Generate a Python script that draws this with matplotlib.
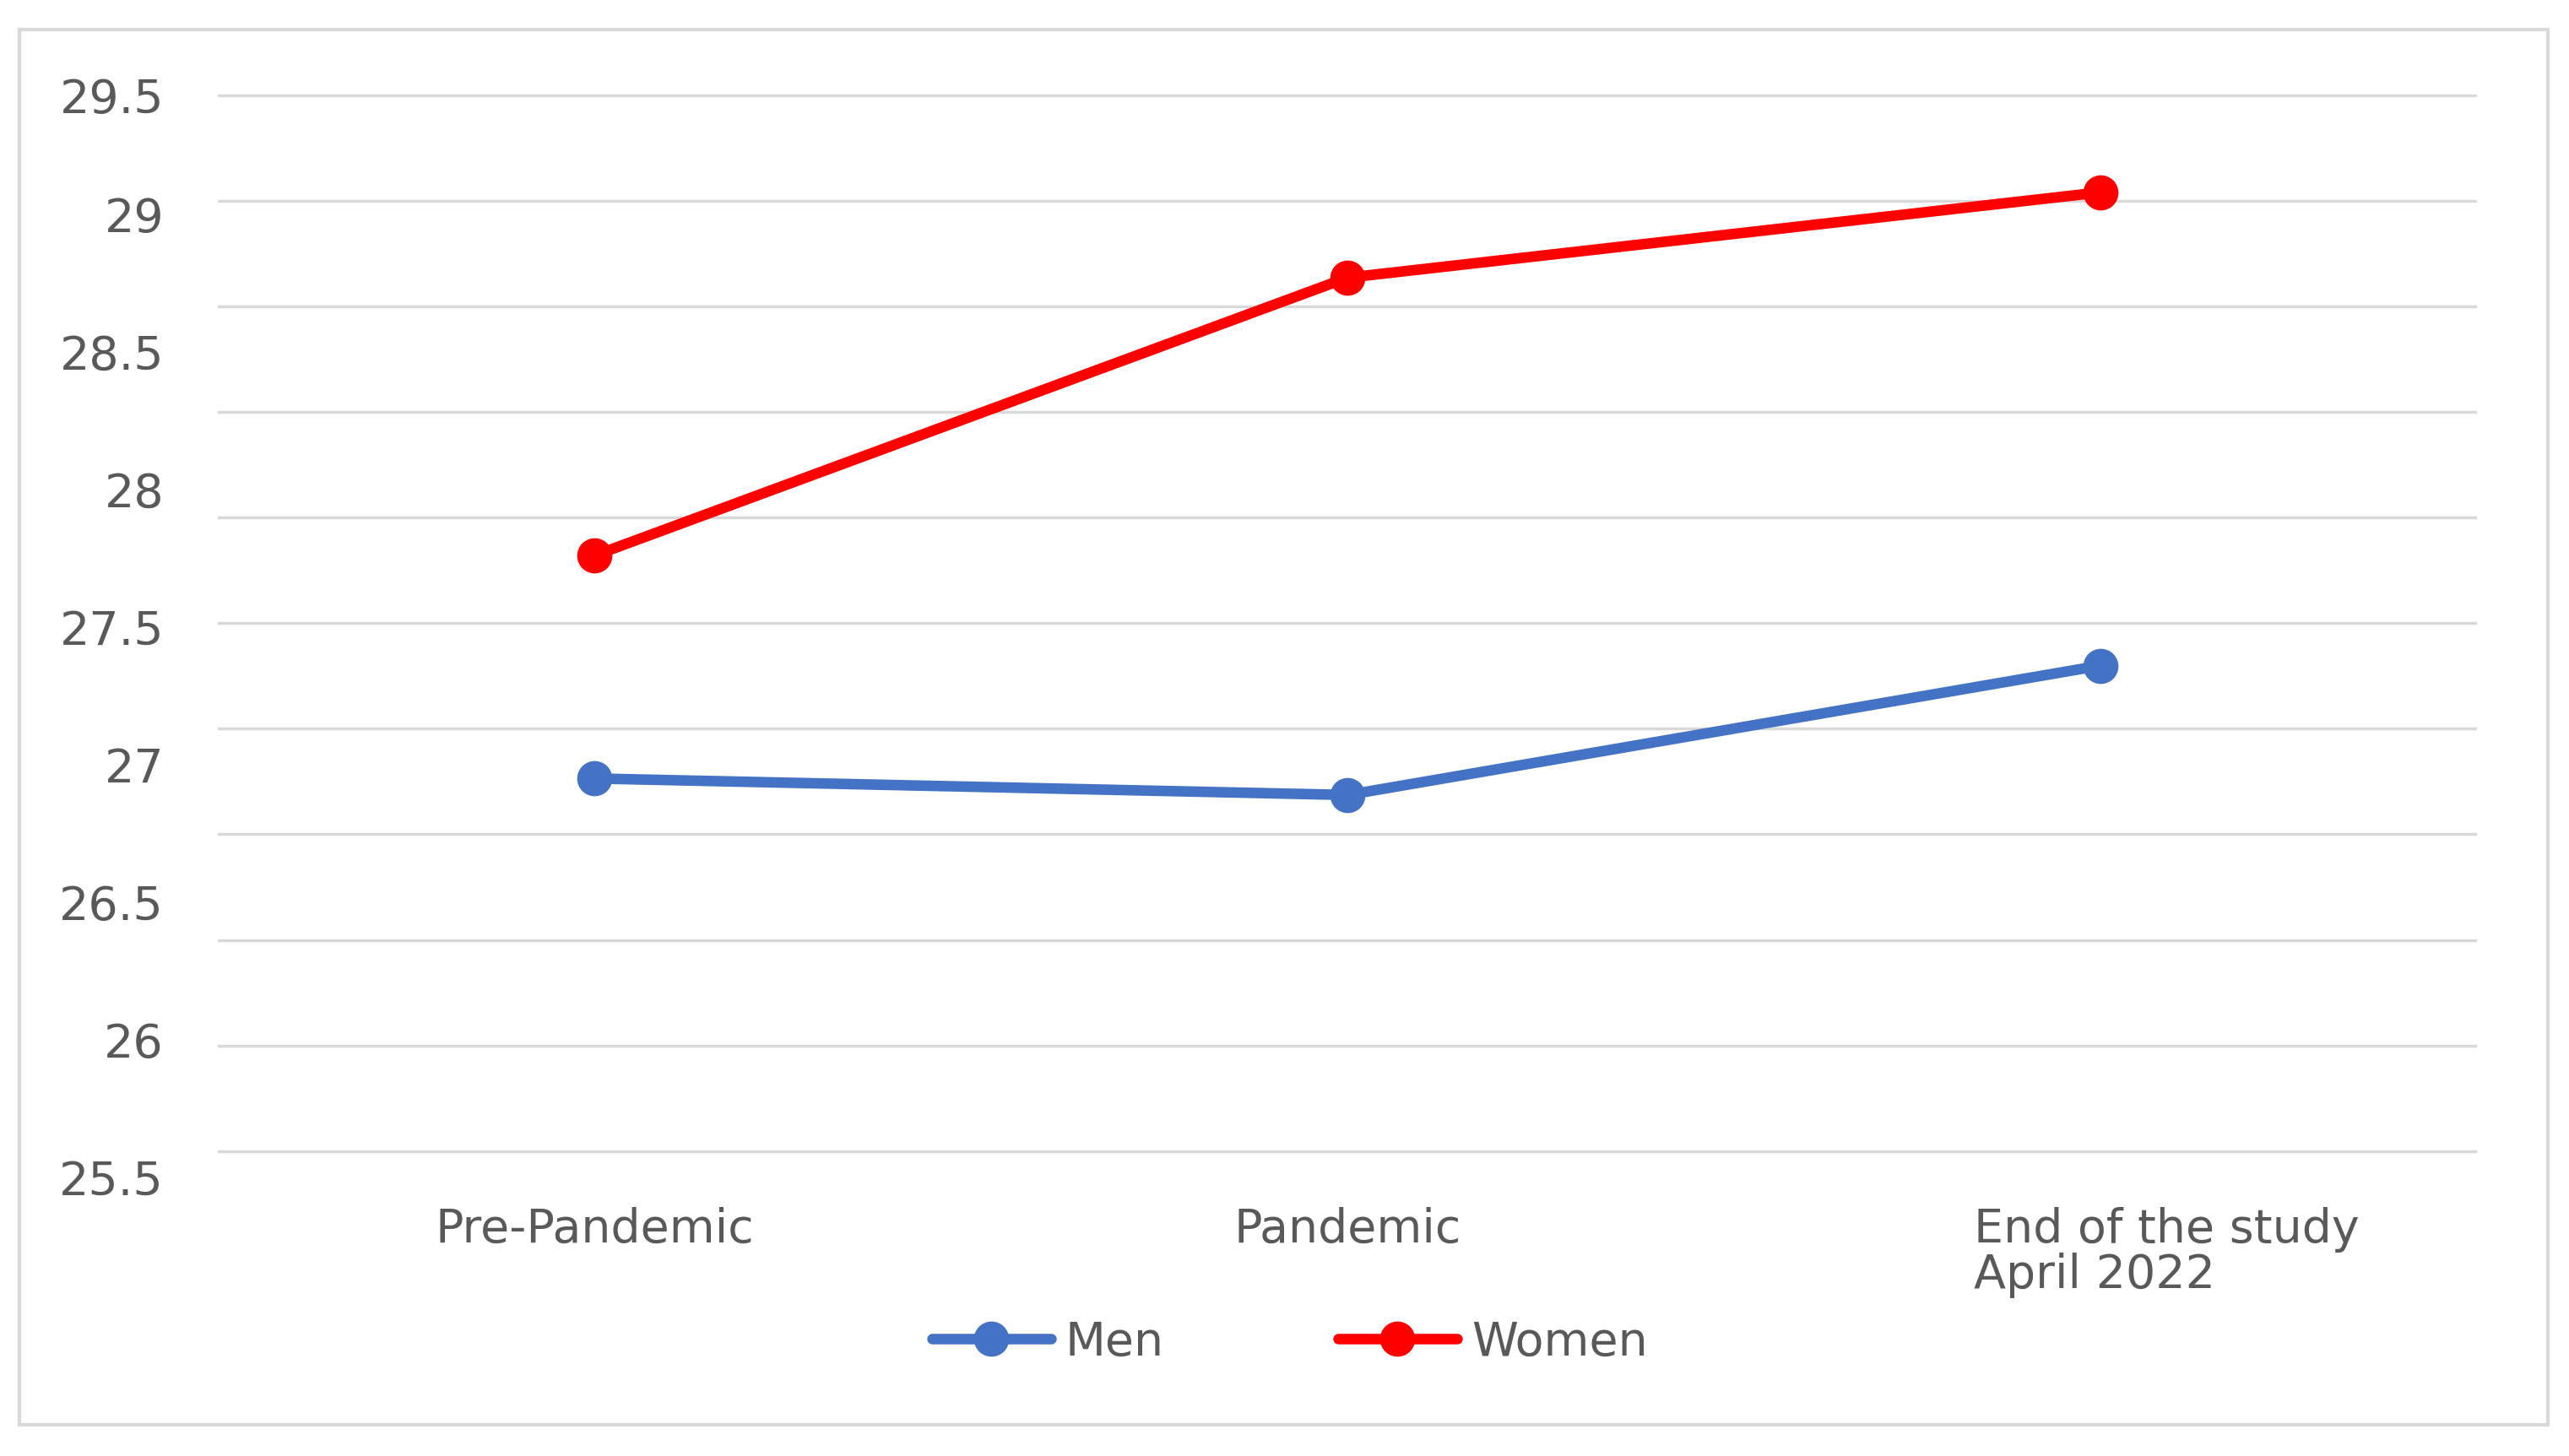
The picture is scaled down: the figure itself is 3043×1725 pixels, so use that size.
import matplotlib
matplotlib.use('Agg')
import matplotlib.pyplot as plt
import matplotlib.transforms as mtransforms
from matplotlib.patches import Rectangle
import numpy as np

# data
periodos = ['Pre-Pandemic', 'Pandemic', 'End of the study\nApril 2022']
homens = [26.95, 26.89, 27.36]
mulheres = [27.76, 28.77, 29.08]
rotulos_y = [25.5, 26, 26.5, 27, 27.5, 28, 28.5, 29, 29.5]

cor_texto = '#595959'
cor_grade = '#D9D9D9'

fig = plt.figure(figsize=(30.43, 17.25), dpi=100)
fig.patch.set_facecolor('white')

# moldura externa
fig.patches.append(Rectangle((23 / 3043, 1 - 1688 / 1725), 2995 / 3043, 1653 / 1725,
                             transform=fig.transFigure, fill=False,
                             edgecolor=cor_grade, linewidth=3))

ax = fig.add_axes([258 / 3043, 330 / 1725, 2676 / 3043, 1304 / 1725])
x = np.arange(len(periodos))

ax.plot(x, homens, color='#4472C4', linewidth=9, marker='o', markersize=29,
        label='Men', solid_capstyle='round')
ax.plot(x, mulheres, color='#FF0000', linewidth=9, marker='o', markersize=29,
        label='Women', solid_capstyle='round')

ax.set_xlim(-0.5, 2.5)
ax.set_ylim(25.5, 29.5)

# gridlines (11 lines, not aligned to labels like the original)
ax.set_yticks(np.linspace(29.433, 25.596, 11), minor=True)
ax.grid(which='minor', axis='y', color=cor_grade, linewidth=2.5)
ax.set_yticks(rotulos_y)
ax.set_yticklabels([('%g' % v) for v in rotulos_y])
ax.tick_params(axis='y', which='both', length=0, pad=46, labelsize=40,
               labelcolor=cor_texto)

ax.set_xticks(x)
ax.set_xticklabels(periodos)
ax.tick_params(axis='x', length=0, pad=25, labelsize=40, labelcolor=cor_texto)

# ajustes finos dos rotulos
top = ax.get_yticklabels()[-1]
top.set_transform(top.get_transform() + mtransforms.ScaledTranslation(0, -22 / 100, fig.dpi_scale_trans))
ult = ax.get_xticklabels()[-1]
ult.set_multialignment('left')
ult.set_linespacing(1.0)
ult.set_transform(ult.get_transform() + mtransforms.ScaledTranslation(78 / 100, 0, fig.dpi_scale_trans))

for s in ax.spines.values():
    s.set_visible(False)
ax.set_axisbelow(True)

fig.legend(loc='center', bbox_to_anchor=(0.502, 0.078), ncol=2, frameon=False,
           fontsize=40, handlelength=2.55, handletextpad=0.3, columnspacing=3.7,
           labelcolor=cor_texto)

fig.savefig('out.png', dpi=100, facecolor='white')
